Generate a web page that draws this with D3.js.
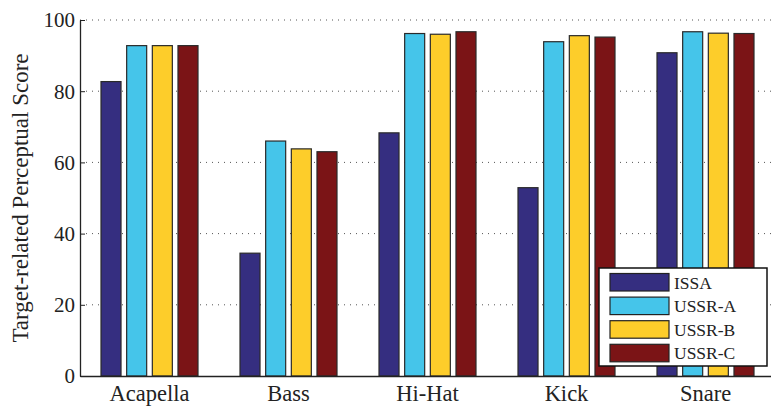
<!DOCTYPE html>
<html>
<head>
<meta charset="utf-8">
<script src="https://cdn.jsdelivr.net/npm/d3@7"></script>
<style>
  html, body { margin: 0; padding: 0; background: #fff; }
  svg { display: block; }
</style>
</head>
<body>
<svg id="chart" width="771" height="406"></svg>
<script>
// Instruments on the x axis
const categories = ["Acapella", "Bass", "Hi-Hat", "Kick", "Snare"];
// Methods compared (one bar per method in each group)
const seriesNames = ["ISSA", "USSR-A", "USSR-B", "USSR-C"];
const seriesColors = ["#352e80", "#45c5ea", "#fdcd2a", "#7b1416"];
// Scores per method, in category order
const issa  = [82.7, 34.5, 68.3, 52.9, 90.8];
const ussrA = [92.8, 66.0, 96.2, 93.9, 96.7];
const ussrB = [92.8, 63.8, 96.0, 95.6, 96.3];
const ussrC = [92.8, 63.0, 96.7, 95.2, 96.2];
const yTicks = [0, 20, 40, 60, 80, 100];
const yLabel = "Target-related Perceptual Score";

const series = [issa, ussrA, ussrB, ussrC];
const FONT = "'Liberation Serif', 'DejaVu Serif', serif";

const svg = d3.select("#chart").style("font-family", FONT);
const margin = { left: 80, right: -4 };
const W = 771;
const y0 = 376, y1 = 20;

const x = d3.scaleBand().domain(categories).range([margin.left, W - margin.right]).padding(0);
const groupW = 97;
const xInner = d3.scaleBand().domain(seriesNames).range([0, groupW]).paddingInner(0.22);
const y = d3.scaleLinear().domain([0, 100]).range([y0, y1]);

// Dotted horizontal grid
svg.append("g")
  .selectAll("line")
  .data(yTicks.filter(t => t > 0))
  .join("line")
  .attr("x1", margin.left).attr("x2", W)
  .attr("y1", d => y(d)).attr("y2", d => y(d))
  .attr("stroke", "#555")
  .attr("stroke-width", 1)
  .attr("stroke-dasharray", "1,5");

// Bars
const groups = svg.append("g").selectAll("g")
  .data(categories)
  .join("g")
  .attr("transform", d => `translate(${x(d) + x.bandwidth() / 2 - groupW / 2},0)`);

groups.selectAll("rect")
  .data((c, ci) => series.map((s, si) => ({ name: seriesNames[si], v: s[ci], color: seriesColors[si] })))
  .join("rect")
  .attr("x", d => xInner(d.name))
  .attr("width", xInner.bandwidth())
  .attr("y", d => y(d.v))
  .attr("height", d => y(0) - y(d.v))
  .attr("fill", d => d.color)
  .attr("stroke", "#2a2a2a")
  .attr("stroke-width", 1.2);

// Y axis with inward ticks
const yAxis = d3.axisLeft(y).tickValues(yTicks).tickSize(-5).tickPadding(10).tickSizeOuter(0);
const gy = svg.append("g").attr("transform", `translate(${margin.left},0)`).call(yAxis)
  .attr("font-family", FONT);
gy.select(".domain").attr("stroke", "#222").attr("stroke-width", 1.3);
gy.selectAll(".tick line").attr("stroke", "#222");
gy.selectAll("text").style("font-size", "21px").style("font-family", FONT).attr("fill", "#222")
  .attr("x", -5).attr("dy", "0.33em");

// X axis
const xAxis = d3.axisBottom(x).tickSize(0).tickPadding(10).tickSizeOuter(0);
const gx = svg.append("g").attr("transform", `translate(0,${y0})`).call(xAxis)
  .attr("font-family", FONT);
gx.select(".domain").attr("stroke", "#222").attr("stroke-width", 1.5);
gx.selectAll("text").style("font-size", "22.5px").style("font-family", FONT).attr("fill", "#222").attr("dy", "0.68em");

// Y axis title
svg.append("text")
  .attr("transform", `translate(28,${(y0 + y1) / 2}) rotate(-90)`)
  .attr("text-anchor", "middle")
  .style("font-family", FONT)
  .style("font-size", "23px")
  .attr("fill", "#222")
  .text(yLabel);

// Legend
const lg = svg.append("g").attr("transform", "translate(599,268)");
lg.append("rect").attr("width", 168).attr("height", 98)
  .attr("fill", "#fff").attr("stroke", "#111").attr("stroke-width", 1.5);
const rows = lg.selectAll("g.row").data(seriesNames).join("g")
  .attr("class", "row")
  .attr("transform", (d, i) => `translate(11,${5.5 + i * 23.6})`);
rows.append("rect").attr("width", 59).attr("height", 17.5)
  .attr("fill", (d, i) => seriesColors[i]).attr("stroke", "#222").attr("stroke-width", 1.2);
rows.append("text").attr("x", 64).attr("y", 9).attr("dy", "0.35em")
  .style("font-family", FONT).style("font-size", "17.5px").attr("fill", "#222").text(d => d);
</script>
</body>
</html>
